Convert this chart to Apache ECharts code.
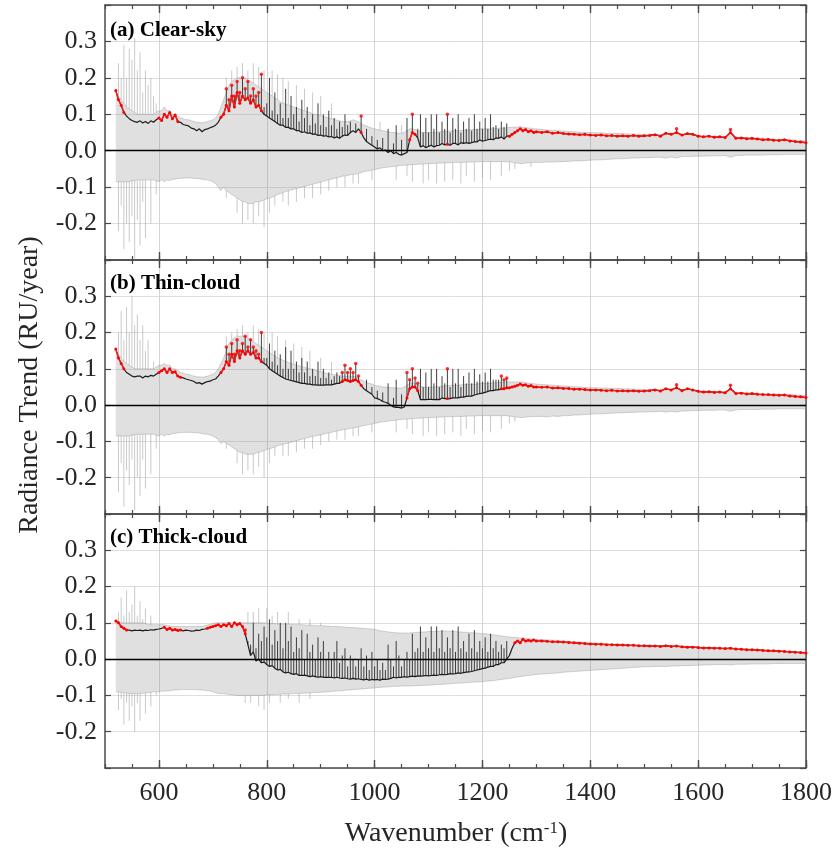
<!DOCTYPE html>
<html>
<head>
<meta charset="utf-8">
<script src="https://cdn.jsdelivr.net/npm/echarts@6/dist/echarts.min.js"></script>
<style>
html, body { margin: 0; padding: 0; background: #fff; }
#chart { width: 838px; height: 855px; }
</style>
</head>
<body>
<div id="chart"></div>
<script>
// wavenumber grid (cm-1)
const wavenumbers = [
  520, 525, 530, 535, 540, 545, 550, 555, 560, 565,
  570, 575, 580, 585, 590, 595, 600, 605, 610, 615,
  620, 625, 630, 635, 640, 645, 650, 655, 660, 665,
  670, 675, 680, 685, 690, 695, 700, 705, 710, 715,
  720, 725, 730, 735, 740, 745, 750, 755, 760, 765,
  770, 775, 780, 785, 790, 795, 800, 805, 810, 815,
  820, 825, 830, 835, 840, 845, 850, 855, 860, 865,
  870, 875, 880, 885, 890, 895, 900, 905, 910, 915,
  920, 925, 930, 935, 940, 945, 950, 955, 960, 965,
  970, 975, 980, 985, 990, 995, 1000, 1005, 1010, 1015,
  1020, 1025, 1030, 1035, 1040, 1045, 1050, 1055, 1060, 1065,
  1070, 1075, 1080, 1085, 1090, 1095, 1100, 1105, 1110, 1115,
  1120, 1125, 1130, 1135, 1140, 1145, 1150, 1155, 1160, 1165,
  1170, 1175, 1180, 1185, 1190, 1195, 1200, 1205, 1210, 1215,
  1220, 1225, 1230, 1235, 1240, 1245, 1250, 1255, 1260, 1265,
  1270, 1275, 1280, 1285, 1290, 1295, 1300,
  1310, 1320, 1330, 1340, 1350, 1360, 1370, 1380, 1390, 1400,
  1410, 1420, 1430, 1440, 1450, 1460, 1470, 1480, 1490, 1500,
  1510, 1520, 1530, 1540, 1550, 1560, 1570, 1580, 1590, 1600,
  1610, 1620, 1630, 1640, 1650, 1660, 1670, 1680, 1690, 1700,
  1710, 1720, 1730, 1740, 1750, 1760, 1770, 1780, 1790, 1800
]

// ---------- (a) clear-sky ----------
const trendA = [
  0.165, 0.14, 0.125, 0.105, 0.095, 0.088, 0.083, 0.08, 0.078, 0.082,
  0.076, 0.08, 0.075, 0.082, 0.078, 0.085, 0.09, 0.083, 0.1, 0.092,
  0.105, 0.088, 0.098, 0.08, 0.078, 0.072, 0.07, 0.068, 0.062, 0.06,
  0.055, 0.06, 0.052, 0.058, 0.06, 0.063, 0.066, 0.07, 0.078, 0.092,
  0.1, 0.125, 0.11, 0.15, 0.12, 0.16, 0.13, 0.15, 0.14, 0.145,
  0.13, 0.14, 0.12, 0.125, 0.11, 0.1, 0.095, 0.09, 0.085, 0.08,
  0.075, 0.07, 0.07, 0.064, 0.064, 0.06, 0.06, 0.055, 0.055, 0.05,
  0.052, 0.048, 0.049, 0.045, 0.046, 0.042, 0.043, 0.04, 0.041, 0.038,
  0.039, 0.035, 0.038, 0.034, 0.04, 0.043, 0.042, 0.05, 0.055, 0.05,
  0.06, 0.05, 0.035, 0.025, 0.02, 0.015, 0.01, 0.005, 0.008, 0.0,
  0.002, -0.005, 0.0, -0.008, -0.005, -0.01, -0.012, -0.008, -0.005, 0.03,
  0.05, 0.045, 0.035, 0.01, 0.014, 0.008, 0.012, 0.015, 0.01, 0.014,
  0.015, 0.02, 0.016, 0.018, 0.015, 0.02, 0.02, 0.016, 0.022, 0.02,
  0.022, 0.02, 0.022, 0.025, 0.024, 0.03, 0.026, 0.028, 0.03, 0.032,
  0.03, 0.035, 0.034, 0.038, 0.032, 0.04, 0.04, 0.045, 0.05, 0.055,
  0.06, 0.055, 0.058, 0.052, 0.055, 0.05, 0.052,
  0.05, 0.052, 0.048, 0.05, 0.047, 0.046, 0.045, 0.044, 0.045, 0.043,
  0.042, 0.043, 0.041, 0.042, 0.04, 0.041, 0.04, 0.042, 0.04, 0.041,
  0.042, 0.044, 0.04, 0.048, 0.045, 0.05, 0.043, 0.047, 0.045, 0.04,
  0.038, 0.04, 0.037, 0.038, 0.036, 0.05, 0.034, 0.035, 0.033, 0.034,
  0.032, 0.03, 0.031, 0.029, 0.028, 0.03, 0.027, 0.025, 0.024, 0.022
]
const spikesA = [
  [725, 0.17], [735, 0.18], [745, 0.19], [755, 0.2], [765, 0.19], [775, 0.17], [790, 0.21],
  [805, 0.2], [815, 0.16], [825, 0.13], [835, 0.17], [845, 0.15], [855, 0.12], [865, 0.14],
  [875, 0.12], [885, 0.1], [895, 0.13], [905, 0.1], [915, 0.11], [925, 0.09], [935, 0.08],
  [945, 0.1], [975, 0.095], [985, 0.06], [1025, 0.06], [1040, 0.07], [1060, 0.09], [1070, 0.1],
  [1085, 0.1], [1095, 0.09], [1105, 0.1], [1115, 0.1], [1125, 0.08], [1135, 0.1], [1145, 0.09],
  [1155, 0.1], [1165, 0.08], [1175, 0.09], [1185, 0.1], [1195, 0.08], [1205, 0.09], [1215, 0.1],
  [1225, 0.07], [1235, 0.08], [1245, 0.075], [1560, 0.06], [1660, 0.058],
  [730, 0.14], [740, 0.15], [750, 0.16], [760, 0.17], [770, 0.15], [780, 0.15], [785, 0.16],
  [795, 0.12], [800, 0.13], [810, 0.11], [820, 0.1], [830, 0.09], [840, 0.09], [850, 0.1],
  [860, 0.08], [870, 0.09], [880, 0.07], [890, 0.075], [900, 0.07], [910, 0.065], [920, 0.07],
  [930, 0.06], [940, 0.065], [950, 0.07], [955, 0.08], [965, 0.075], [995, 0.04], [1005, 0.03],
  [1015, 0.035], [1035, 0.02], [1050, 0.03], [1080, 0.06], [1090, 0.05], [1100, 0.05],
  [1110, 0.06], [1120, 0.05], [1130, 0.06], [1140, 0.05], [1150, 0.06], [1160, 0.05],
  [1170, 0.06], [1180, 0.055], [1190, 0.06], [1200, 0.06], [1210, 0.06], [1220, 0.065],
  [1230, 0.06], [1240, 0.065]
]
const upperA = [
  0.16, 0.15, 0.14, 0.13, 0.12, 0.115, 0.11, 0.105, 0.1, 0.1,
  0.1, 0.1, 0.1, 0.1, 0.1, 0.105, 0.11, 0.11, 0.12, 0.11,
  0.11, 0.1, 0.1, 0.095, 0.09, 0.088, 0.085, 0.085, 0.082, 0.08,
  0.078, 0.078, 0.076, 0.078, 0.08, 0.082, 0.085, 0.09, 0.1, 0.12,
  0.14, 0.16, 0.18, 0.19, 0.195, 0.2, 0.2, 0.2, 0.2, 0.195,
  0.19, 0.185, 0.18, 0.175, 0.17, 0.165, 0.16, 0.155, 0.15, 0.145,
  0.14, 0.135, 0.13, 0.128, 0.125, 0.122, 0.12, 0.117, 0.115, 0.112,
  0.11, 0.107, 0.105, 0.102, 0.1, 0.098, 0.096, 0.094, 0.092, 0.09,
  0.088, 0.086, 0.084, 0.082, 0.08, 0.08, 0.08, 0.082, 0.085, 0.082,
  0.08, 0.075, 0.07, 0.068, 0.065, 0.062, 0.06, 0.058, 0.056, 0.055,
  0.054, 0.052, 0.05, 0.05, 0.049, 0.048, 0.048, 0.05, 0.055, 0.06,
  0.06, 0.058, 0.055, 0.052, 0.05, 0.05, 0.05, 0.05, 0.05, 0.051,
  0.052, 0.052, 0.053, 0.054, 0.054, 0.055, 0.055, 0.055, 0.056, 0.056,
  0.057, 0.057, 0.058, 0.058, 0.058, 0.06, 0.06, 0.06, 0.06, 0.06,
  0.06, 0.061, 0.062, 0.062, 0.062, 0.063, 0.064, 0.064, 0.065, 0.065,
  0.066, 0.064, 0.064, 0.062, 0.062, 0.06, 0.06,
  0.058, 0.057, 0.056, 0.055, 0.054, 0.053, 0.052, 0.051, 0.05, 0.05,
  0.049, 0.049, 0.048, 0.048, 0.047, 0.047, 0.046, 0.046, 0.045, 0.045,
  0.045, 0.045, 0.044, 0.048, 0.045, 0.05, 0.044, 0.047, 0.045, 0.042,
  0.041, 0.041, 0.04, 0.04, 0.039, 0.05, 0.038, 0.037, 0.036, 0.036,
  0.035, 0.034, 0.033, 0.032, 0.031, 0.031, 0.03, 0.029, 0.028, 0.027
]
const upperSpikesA = [
  [525, 0.24], [530, 0.2], [535, 0.29], [540, 0.2], [545, 0.28], [550, 0.25], [555, 0.31],
  [560, 0.22], [565, 0.27], [570, 0.16], [575, 0.22], [580, 0.18], [585, 0.2], [590, 0.15],
  [595, 0.13], [725, 0.2], [735, 0.22], [745, 0.23], [755, 0.24], [765, 0.22], [775, 0.24],
  [785, 0.23], [795, 0.22], [810, 0.22], [820, 0.21], [830, 0.2], [840, 0.19], [855, 0.18],
  [870, 0.17], [885, 0.16], [900, 0.15], [920, 0.13], [1010, 0.08], [1050, 0.07]
]
const lowerA = [
  -0.085, -0.085, -0.085, -0.085, -0.085, -0.085, -0.082, -0.082, -0.08, -0.08,
  -0.08, -0.08, -0.08, -0.08, -0.08, -0.082, -0.085, -0.08, -0.085, -0.08,
  -0.082, -0.078, -0.078, -0.076, -0.076, -0.075, -0.075, -0.075, -0.075, -0.076,
  -0.076, -0.077, -0.078, -0.08, -0.08, -0.082, -0.085, -0.09, -0.1, -0.11,
  -0.1, -0.11, -0.115, -0.12, -0.125, -0.13, -0.135, -0.14, -0.14, -0.145,
  -0.145, -0.145, -0.14, -0.14, -0.138, -0.135, -0.132, -0.13, -0.127, -0.124,
  -0.12, -0.118, -0.115, -0.112, -0.11, -0.108, -0.106, -0.104, -0.102, -0.1,
  -0.098, -0.096, -0.094, -0.092, -0.09, -0.088, -0.086, -0.084, -0.082, -0.08,
  -0.078, -0.076, -0.074, -0.072, -0.07, -0.069, -0.068, -0.066, -0.065, -0.064,
  -0.062, -0.06, -0.058, -0.056, -0.055, -0.053, -0.052, -0.05, -0.048, -0.047,
  -0.046, -0.045, -0.044, -0.043, -0.042, -0.041, -0.04, -0.04, -0.039, -0.039,
  -0.038, -0.038, -0.037, -0.037, -0.036, -0.036, -0.035, -0.035, -0.035, -0.034,
  -0.034, -0.034, -0.033, -0.033, -0.033, -0.032, -0.032, -0.032, -0.032, -0.032,
  -0.031, -0.031, -0.031, -0.031, -0.03, -0.03, -0.03, -0.03, -0.03, -0.03,
  -0.03, -0.03, -0.03, -0.03, -0.03, -0.03, -0.03, -0.032, -0.034, -0.034,
  -0.035, -0.035, -0.034, -0.033, -0.033, -0.032, -0.032,
  -0.032, -0.031, -0.031, -0.03, -0.03, -0.029, -0.028, -0.028, -0.027, -0.026,
  -0.025, -0.025, -0.024, -0.023, -0.022, -0.022, -0.021, -0.02, -0.02, -0.019,
  -0.019, -0.018, -0.018, -0.02, -0.017, -0.02, -0.016, -0.016, -0.015, -0.015,
  -0.015, -0.014, -0.014, -0.014, -0.013, -0.018, -0.013, -0.013, -0.012, -0.012,
  -0.012, -0.012, -0.011, -0.011, -0.011, -0.01, -0.01, -0.01, -0.01, -0.01
]
const lowerSpikesA = [
  [525, -0.22], [530, -0.15], [535, -0.27], [540, -0.2], [545, -0.25], [550, -0.18], [555, -0.3],
  [560, -0.19], [565, -0.26], [570, -0.14], [575, -0.24], [585, -0.2], [595, -0.12], [725, -0.13],
  [745, -0.17], [755, -0.2], [765, -0.19], [775, -0.2], [785, -0.18], [795, -0.21], [805, -0.17],
  [815, -0.15], [830, -0.14], [840, -0.15], [855, -0.14], [870, -0.13], [885, -0.13], [900, -0.12],
  [915, -0.11], [930, -0.1], [945, -0.1], [960, -0.09], [970, -0.09], [995, -0.08], [1040, -0.08],
  [1060, -0.07], [1070, -0.085], [1090, -0.09], [1100, -0.08], [1115, -0.09], [1130, -0.085],
  [1145, -0.08], [1160, -0.09], [1170, -0.07], [1185, -0.085], [1200, -0.075], [1215, -0.08],
  [1235, -0.07], [1250, -0.055], [1260, -0.05], [1290, -0.045]
]
const sigA = [[520, 535], [600, 635], [715, 790], [975, 975], [1065, 1075], [1135, 1135], [1250, 1800]]

// ---------- (b) thin-cloud ----------
const trendB = [
  0.155, 0.13, 0.115, 0.1, 0.09, 0.085, 0.08, 0.078, 0.08, 0.08,
  0.075, 0.08, 0.078, 0.082, 0.08, 0.085, 0.09, 0.095, 0.1, 0.09,
  0.1, 0.09, 0.092, 0.08, 0.077, 0.075, 0.072, 0.07, 0.068, 0.065,
  0.06, 0.062, 0.058, 0.062, 0.065, 0.066, 0.07, 0.072, 0.08, 0.09,
  0.1, 0.12, 0.11, 0.14, 0.12, 0.15, 0.13, 0.15, 0.14, 0.15,
  0.14, 0.145, 0.13, 0.13, 0.12, 0.115, 0.11, 0.1, 0.095, 0.09,
  0.085, 0.08, 0.076, 0.072, 0.07, 0.068, 0.066, 0.064, 0.062, 0.06,
  0.06, 0.058, 0.058, 0.056, 0.056, 0.055, 0.055, 0.055, 0.056, 0.056,
  0.056, 0.058, 0.06, 0.06, 0.065, 0.07, 0.068, 0.065, 0.068, 0.07,
  0.065, 0.055, 0.045, 0.04, 0.035, 0.03, 0.02, 0.018, 0.015, 0.01,
  0.008, 0.005, 0.0, -0.005, -0.006, -0.006, -0.008, -0.005, 0.02, 0.045,
  0.05, 0.05, 0.04, 0.015, 0.015, 0.015, 0.016, 0.016, 0.015, 0.016,
  0.015, 0.02, 0.018, 0.018, 0.018, 0.02, 0.02, 0.02, 0.022, 0.022,
  0.024, 0.025, 0.025, 0.028, 0.03, 0.032, 0.033, 0.035, 0.038, 0.04,
  0.04, 0.042, 0.042, 0.045, 0.045, 0.048, 0.048, 0.05, 0.052, 0.055,
  0.058, 0.055, 0.056, 0.052, 0.054, 0.05, 0.05,
  0.049, 0.05, 0.047, 0.048, 0.046, 0.046, 0.044, 0.044, 0.043, 0.042,
  0.042, 0.041, 0.04, 0.041, 0.039, 0.04, 0.039, 0.04, 0.038, 0.039,
  0.04, 0.042, 0.039, 0.045, 0.042, 0.048, 0.04, 0.045, 0.042, 0.038,
  0.036, 0.037, 0.035, 0.036, 0.034, 0.045, 0.032, 0.033, 0.031, 0.032,
  0.03, 0.029, 0.029, 0.028, 0.027, 0.028, 0.025, 0.024, 0.023, 0.021
]
const spikesB = [
  [725, 0.16], [735, 0.17], [745, 0.18], [755, 0.17], [760, 0.19], [770, 0.18], [790, 0.2],
  [805, 0.17], [815, 0.15], [825, 0.14], [835, 0.16], [845, 0.15], [855, 0.12], [865, 0.13],
  [875, 0.12], [885, 0.1], [895, 0.12], [905, 0.1], [915, 0.09], [930, 0.09], [945, 0.11],
  [955, 0.1], [965, 0.115], [985, 0.07], [1025, 0.06], [1040, 0.07], [1060, 0.09], [1070, 0.1],
  [1085, 0.1], [1095, 0.09], [1105, 0.1], [1115, 0.1], [1125, 0.08], [1135, 0.1], [1145, 0.1],
  [1155, 0.1], [1165, 0.08], [1175, 0.09], [1185, 0.1], [1195, 0.085], [1205, 0.09], [1215, 0.1],
  [1225, 0.07], [1235, 0.08], [1245, 0.075], [1560, 0.056], [1660, 0.055],
  [730, 0.14], [740, 0.14], [750, 0.15], [765, 0.16], [775, 0.16], [780, 0.15], [785, 0.14],
  [795, 0.13], [800, 0.13], [810, 0.12], [820, 0.11], [830, 0.1], [840, 0.1], [850, 0.1],
  [860, 0.09], [870, 0.09], [880, 0.08], [890, 0.08], [900, 0.075], [910, 0.075], [920, 0.07],
  [925, 0.08], [935, 0.08], [940, 0.09], [950, 0.09], [960, 0.09], [970, 0.08], [995, 0.05],
  [1005, 0.04], [1015, 0.035], [1035, 0.02], [1050, 0.03], [1065, 0.07], [1075, 0.075],
  [1080, 0.06], [1090, 0.05], [1100, 0.05], [1110, 0.06], [1120, 0.05], [1130, 0.06],
  [1140, 0.05], [1150, 0.06], [1160, 0.05], [1170, 0.06], [1180, 0.06], [1190, 0.065],
  [1200, 0.065], [1210, 0.065], [1220, 0.07], [1230, 0.07], [1240, 0.07]
]
const upperB = [
  0.15, 0.14, 0.13, 0.12, 0.115, 0.11, 0.105, 0.1, 0.1, 0.1,
  0.1, 0.1, 0.1, 0.1, 0.1, 0.105, 0.11, 0.11, 0.115, 0.11,
  0.11, 0.1, 0.1, 0.095, 0.09, 0.088, 0.085, 0.085, 0.082, 0.08,
  0.078, 0.078, 0.077, 0.078, 0.08, 0.082, 0.085, 0.09, 0.1, 0.115,
  0.13, 0.15, 0.17, 0.18, 0.185, 0.19, 0.19, 0.19, 0.19, 0.185,
  0.18, 0.175, 0.17, 0.165, 0.16, 0.155, 0.15, 0.145, 0.14, 0.135,
  0.13, 0.127, 0.124, 0.121, 0.118, 0.115, 0.112, 0.11, 0.108, 0.106,
  0.104, 0.102, 0.1, 0.098, 0.096, 0.094, 0.092, 0.09, 0.088, 0.086,
  0.085, 0.084, 0.083, 0.082, 0.08, 0.08, 0.08, 0.08, 0.08, 0.078,
  0.075, 0.07, 0.066, 0.063, 0.06, 0.058, 0.055, 0.053, 0.052, 0.05,
  0.05, 0.049, 0.048, 0.048, 0.047, 0.047, 0.047, 0.05, 0.055, 0.06,
  0.062, 0.06, 0.056, 0.052, 0.05, 0.05, 0.05, 0.05, 0.05, 0.051,
  0.052, 0.052, 0.053, 0.054, 0.054, 0.055, 0.055, 0.055, 0.056, 0.056,
  0.057, 0.057, 0.058, 0.058, 0.058, 0.06, 0.06, 0.06, 0.06, 0.06,
  0.062, 0.062, 0.062, 0.063, 0.063, 0.064, 0.064, 0.064, 0.064, 0.064,
  0.064, 0.063, 0.062, 0.061, 0.06, 0.059, 0.058,
  0.057, 0.056, 0.055, 0.054, 0.053, 0.052, 0.051, 0.05, 0.049, 0.048,
  0.048, 0.047, 0.047, 0.046, 0.046, 0.045, 0.045, 0.044, 0.044, 0.043,
  0.043, 0.044, 0.042, 0.046, 0.043, 0.048, 0.042, 0.045, 0.043, 0.04,
  0.039, 0.039, 0.038, 0.038, 0.037, 0.046, 0.036, 0.035, 0.034, 0.034,
  0.033, 0.032, 0.031, 0.031, 0.03, 0.03, 0.029, 0.028, 0.027, 0.026
]
const upperSpikesB = [
  [525, 0.2], [530, 0.26], [535, 0.18], [540, 0.27], [545, 0.2], [550, 0.3], [555, 0.22],
  [560, 0.25], [565, 0.18], [570, 0.22], [575, 0.15], [580, 0.18], [590, 0.12], [725, 0.19],
  [735, 0.2], [745, 0.21], [755, 0.22], [765, 0.2], [775, 0.22], [785, 0.21], [795, 0.2],
  [810, 0.2], [820, 0.19], [835, 0.18], [850, 0.17], [865, 0.16], [880, 0.15], [900, 0.13],
  [920, 0.12]
]
const lowerB = [
  -0.085, -0.085, -0.085, -0.085, -0.085, -0.085, -0.082, -0.082, -0.08, -0.08,
  -0.08, -0.08, -0.08, -0.08, -0.08, -0.082, -0.085, -0.08, -0.085, -0.08,
  -0.082, -0.078, -0.078, -0.076, -0.076, -0.075, -0.075, -0.075, -0.075, -0.076,
  -0.076, -0.077, -0.078, -0.08, -0.08, -0.082, -0.085, -0.09, -0.095, -0.105,
  -0.1, -0.105, -0.11, -0.115, -0.12, -0.125, -0.13, -0.13, -0.135, -0.135,
  -0.135, -0.135, -0.132, -0.13, -0.128, -0.125, -0.122, -0.12, -0.118, -0.115,
  -0.112, -0.11, -0.108, -0.106, -0.104, -0.102, -0.1, -0.098, -0.096, -0.094,
  -0.092, -0.09, -0.088, -0.086, -0.085, -0.083, -0.082, -0.08, -0.078, -0.076,
  -0.075, -0.073, -0.071, -0.07, -0.068, -0.067, -0.066, -0.064, -0.063, -0.062,
  -0.06, -0.058, -0.056, -0.055, -0.053, -0.052, -0.05, -0.049, -0.047, -0.046,
  -0.045, -0.044, -0.043, -0.042, -0.041, -0.04, -0.039, -0.039, -0.038, -0.038,
  -0.037, -0.037, -0.036, -0.036, -0.035, -0.035, -0.034, -0.034, -0.034, -0.033,
  -0.033, -0.033, -0.032, -0.032, -0.032, -0.031, -0.031, -0.031, -0.031, -0.031,
  -0.03, -0.03, -0.03, -0.03, -0.029, -0.029, -0.029, -0.029, -0.029, -0.029,
  -0.029, -0.029, -0.029, -0.029, -0.029, -0.029, -0.03, -0.031, -0.033, -0.033,
  -0.034, -0.034, -0.033, -0.032, -0.032, -0.031, -0.031,
  -0.031, -0.033, -0.03, -0.031, -0.029, -0.029, -0.027, -0.027, -0.026, -0.025,
  -0.024, -0.024, -0.023, -0.022, -0.021, -0.021, -0.02, -0.02, -0.019, -0.019,
  -0.018, -0.018, -0.017, -0.019, -0.017, -0.019, -0.016, -0.016, -0.015, -0.015,
  -0.014, -0.014, -0.014, -0.013, -0.013, -0.017, -0.013, -0.012, -0.012, -0.012,
  -0.012, -0.011, -0.011, -0.011, -0.01, -0.01, -0.01, -0.01, -0.01, -0.01
]
const lowerSpikesB = [
  [525, -0.24], [530, -0.16], [535, -0.28], [540, -0.18], [545, -0.22], [550, -0.15], [555, -0.29],
  [560, -0.2], [565, -0.25], [570, -0.15], [575, -0.23], [585, -0.19], [595, -0.12], [725, -0.12],
  [745, -0.16], [755, -0.19], [765, -0.18], [775, -0.19], [785, -0.17], [795, -0.2], [805, -0.16],
  [815, -0.14], [830, -0.14], [840, -0.14], [855, -0.13], [870, -0.12], [885, -0.12], [900, -0.11],
  [915, -0.1], [930, -0.095], [945, -0.095], [960, -0.085], [970, -0.085], [995, -0.075],
  [1040, -0.075], [1060, -0.065], [1070, -0.08], [1090, -0.085], [1100, -0.075], [1115, -0.085],
  [1130, -0.08], [1145, -0.075], [1160, -0.085], [1170, -0.065], [1185, -0.08], [1200, -0.07],
  [1215, -0.075], [1235, -0.065], [1250, -0.05], [1260, -0.045]
]
const sigB = [[520, 535], [600, 640], [715, 790], [940, 975], [1060, 1080], [1135, 1135], [1235, 1800]]

// ---------- (c) thick-cloud ----------
const trendC = [
  0.105, 0.1, 0.09, 0.085, 0.08, 0.08, 0.078, 0.08, 0.079, 0.08,
  0.078, 0.08, 0.079, 0.081, 0.08, 0.082, 0.083, 0.085, 0.088, 0.082,
  0.085, 0.08, 0.082, 0.079, 0.08, 0.078, 0.08, 0.079, 0.077, 0.078,
  0.08, 0.079, 0.082, 0.083, 0.085, 0.088, 0.09, 0.092, 0.095, 0.09,
  0.095, 0.092, 0.098, 0.09, 0.1, 0.095, 0.098, 0.09, 0.07, 0.04,
  0.01, 0.02, -0.005, 0.0, -0.01, -0.008, -0.015, -0.02, -0.018, -0.025,
  -0.03, -0.028, -0.035, -0.038, -0.036, -0.04, -0.042, -0.04, -0.045, -0.045,
  -0.044, -0.046, -0.048, -0.046, -0.048, -0.05, -0.048, -0.05, -0.05, -0.05,
  -0.05, -0.052, -0.05, -0.052, -0.053, -0.052, -0.054, -0.055, -0.053, -0.055,
  -0.054, -0.056, -0.057, -0.055, -0.058, -0.056, -0.057, -0.056, -0.058, -0.055,
  -0.056, -0.055, -0.053, -0.05, -0.052, -0.05, -0.05, -0.048, -0.05, -0.048,
  -0.047, -0.048, -0.046, -0.047, -0.046, -0.045, -0.046, -0.045, -0.044, -0.045,
  -0.043, -0.042, -0.043, -0.042, -0.04, -0.041, -0.04, -0.038, -0.039, -0.037,
  -0.036, -0.035, -0.034, -0.032, -0.03, -0.028, -0.026, -0.025, -0.022, -0.02,
  -0.02, -0.015, -0.015, -0.01, -0.01, 0.0, 0.01, 0.03, 0.045, 0.05,
  0.045, 0.055, 0.05, 0.052, 0.05, 0.053, 0.05,
  0.05, 0.049, 0.048, 0.048, 0.047, 0.046, 0.045, 0.044, 0.043, 0.042,
  0.041, 0.041, 0.04, 0.04, 0.039, 0.039, 0.038, 0.038, 0.037, 0.037,
  0.036, 0.036, 0.035, 0.037, 0.035, 0.036, 0.034, 0.033, 0.033, 0.032,
  0.031, 0.031, 0.03, 0.03, 0.029, 0.03, 0.028, 0.027, 0.026, 0.026,
  0.025, 0.024, 0.023, 0.023, 0.022, 0.021, 0.02, 0.019, 0.018, 0.017
]
const spikesC = [
  [760, 0.08], [775, 0.1], [785, 0.07], [795, 0.09], [805, 0.11], [815, 0.08], [825, 0.1],
  [835, 0.1], [845, 0.09], [855, 0.06], [865, 0.08], [875, 0.07], [885, 0.04], [895, 0.06],
  [905, 0.05], [915, 0.02], [930, 0.05], [945, 0.03], [960, 0.0], [975, 0.03], [995, 0.02],
  [1025, 0.04], [1040, 0.05], [1060, 0.02], [1070, 0.07], [1085, 0.09], [1095, 0.06], [1105, 0.09],
  [1115, 0.09], [1125, 0.08], [1135, 0.06], [1145, 0.08], [1155, 0.09], [1165, 0.05], [1175, 0.07],
  [1185, 0.08], [1195, 0.05], [1205, 0.06], [1215, 0.07], [1225, 0.05], [1235, 0.04], [1245, 0.05],
  [765, 0.05], [770, 0.04], [780, 0.03], [790, 0.05], [800, 0.06], [810, 0.04], [820, 0.05],
  [830, 0.03], [840, 0.05], [850, 0.02], [860, 0.03], [870, 0.0], [880, 0.02], [890, 0.0],
  [900, 0.02], [910, 0.0], [920, 0.0], [925, 0.02], [935, -0.01], [940, 0.01], [950, -0.02],
  [955, 0.01], [965, -0.02], [970, 0.0], [980, -0.02], [985, 0.01], [990, -0.03], [1000, -0.02],
  [1005, 0.0], [1010, -0.03], [1015, -0.01], [1020, -0.03], [1030, 0.0], [1035, -0.02],
  [1045, 0.01], [1050, -0.02], [1055, 0.0], [1065, 0.0], [1075, 0.02], [1080, 0.03],
  [1090, 0.02], [1100, 0.03], [1110, 0.02], [1120, 0.03], [1130, 0.02], [1140, 0.03],
  [1150, 0.02], [1160, 0.03], [1170, 0.02], [1180, 0.03], [1190, 0.02], [1200, 0.03],
  [1210, 0.02], [1220, 0.03], [1230, 0.02], [1240, 0.03]
]
const upperC = [
  0.11, 0.105, 0.1, 0.1, 0.1, 0.1, 0.1, 0.1, 0.1, 0.1,
  0.1, 0.098, 0.095, 0.095, 0.095, 0.095, 0.095, 0.095, 0.095, 0.092,
  0.092, 0.09, 0.09, 0.09, 0.09, 0.09, 0.09, 0.09, 0.09, 0.09,
  0.09, 0.09, 0.09, 0.092, 0.094, 0.096, 0.098, 0.1, 0.1, 0.1,
  0.1, 0.1, 0.1, 0.1, 0.1, 0.1, 0.1, 0.1, 0.1, 0.1,
  0.1, 0.1, 0.1, 0.1, 0.1, 0.1, 0.099, 0.098, 0.098, 0.098,
  0.097, 0.097, 0.097, 0.096, 0.096, 0.096, 0.095, 0.095, 0.095, 0.095,
  0.094, 0.094, 0.094, 0.093, 0.093, 0.092, 0.092, 0.092, 0.091, 0.091,
  0.09, 0.09, 0.09, 0.089, 0.089, 0.088, 0.088, 0.087, 0.087, 0.086,
  0.086, 0.085, 0.085, 0.084, 0.083, 0.083, 0.082, 0.08, 0.078, 0.077,
  0.076, 0.075, 0.074, 0.073, 0.073, 0.072, 0.072, 0.072, 0.072, 0.072,
  0.073, 0.073, 0.074, 0.074, 0.075, 0.075, 0.076, 0.076, 0.076, 0.077,
  0.077, 0.077, 0.078, 0.077, 0.077, 0.076, 0.076, 0.075, 0.075, 0.074,
  0.074, 0.073, 0.073, 0.072, 0.072, 0.071, 0.07, 0.07, 0.069, 0.068,
  0.067, 0.066, 0.065, 0.064, 0.063, 0.062, 0.061, 0.06, 0.06, 0.059,
  0.058, 0.058, 0.057, 0.056, 0.056, 0.055, 0.055,
  0.054, 0.053, 0.052, 0.051, 0.05, 0.049, 0.048, 0.047, 0.046, 0.045,
  0.044, 0.044, 0.043, 0.042, 0.042, 0.041, 0.04, 0.04, 0.039, 0.039,
  0.038, 0.038, 0.037, 0.038, 0.036, 0.037, 0.035, 0.035, 0.034, 0.034,
  0.033, 0.033, 0.032, 0.032, 0.031, 0.032, 0.03, 0.029, 0.029, 0.028,
  0.027, 0.026, 0.026, 0.025, 0.024, 0.023, 0.022, 0.021, 0.021, 0.02
]
const upperSpikesC = [
  [525, 0.13], [530, 0.17], [535, 0.12], [540, 0.19], [545, 0.13], [550, 0.15], [555, 0.2],
  [560, 0.12], [565, 0.16], [570, 0.11], [575, 0.14], [585, 0.12], [765, 0.13], [775, 0.13],
  [785, 0.14], [800, 0.14], [810, 0.12], [820, 0.13], [840, 0.13], [860, 0.11], [880, 0.11],
  [900, 0.1]
]
const lowerC = [
  -0.09, -0.09, -0.092, -0.092, -0.094, -0.094, -0.095, -0.095, -0.095, -0.094,
  -0.094, -0.093, -0.092, -0.091, -0.09, -0.09, -0.09, -0.088, -0.088, -0.088,
  -0.087, -0.086, -0.085, -0.085, -0.084, -0.084, -0.084, -0.084, -0.084, -0.084,
  -0.084, -0.085, -0.085, -0.086, -0.087, -0.088, -0.09, -0.092, -0.094, -0.095,
  -0.095, -0.096, -0.097, -0.098, -0.099, -0.1, -0.1, -0.1, -0.1, -0.1,
  -0.1, -0.1, -0.1, -0.1, -0.1, -0.1, -0.098, -0.098, -0.098, -0.098,
  -0.097, -0.097, -0.096, -0.096, -0.096, -0.095, -0.095, -0.095, -0.094, -0.094,
  -0.094, -0.093, -0.093, -0.092, -0.092, -0.092, -0.091, -0.091, -0.09, -0.09,
  -0.089, -0.088, -0.088, -0.087, -0.087, -0.086, -0.085, -0.085, -0.084, -0.083,
  -0.083, -0.082, -0.082, -0.081, -0.08, -0.08, -0.079, -0.078, -0.078, -0.077,
  -0.077, -0.076, -0.076, -0.075, -0.075, -0.075, -0.074, -0.074, -0.074, -0.074,
  -0.074, -0.073, -0.073, -0.073, -0.072, -0.072, -0.072, -0.071, -0.071, -0.07,
  -0.07, -0.069, -0.069, -0.068, -0.068, -0.067, -0.067, -0.066, -0.066, -0.065,
  -0.065, -0.064, -0.064, -0.063, -0.063, -0.062, -0.062, -0.061, -0.06, -0.06,
  -0.059, -0.058, -0.057, -0.056, -0.055, -0.054, -0.053, -0.052, -0.05, -0.049,
  -0.048, -0.047, -0.046, -0.045, -0.044, -0.043, -0.042,
  -0.041, -0.04, -0.039, -0.038, -0.036, -0.035, -0.034, -0.033, -0.032, -0.031,
  -0.03, -0.029, -0.028, -0.027, -0.026, -0.025, -0.024, -0.023, -0.022, -0.021,
  -0.021, -0.02, -0.02, -0.02, -0.019, -0.019, -0.018, -0.018, -0.017, -0.017,
  -0.016, -0.016, -0.015, -0.015, -0.015, -0.016, -0.014, -0.014, -0.014, -0.013,
  -0.013, -0.013, -0.013, -0.012, -0.012, -0.012, -0.012, -0.012, -0.012, -0.012
]
const lowerSpikesC = [
  [525, -0.14], [530, -0.11], [535, -0.18], [540, -0.12], [545, -0.17], [550, -0.13], [555, -0.2],
  [560, -0.12], [565, -0.17], [575, -0.15], [585, -0.13], [595, -0.1], [760, -0.12], [770, -0.12],
  [785, -0.13], [795, -0.14], [805, -0.12], [825, -0.12], [840, -0.11], [860, -0.12], [880, -0.11]
]
const sigC = [[520, 540], [610, 640], [690, 760], [1260, 1800]]

const titles = ['(a) Clear-sky', '(b) Thin-cloud', '(c) Thick-cloud']
const xMajorTicks = [600, 800, 1000, 1200, 1400, 1600, 1800]

const font = 'Liberation Serif'
const frameColor = '#4a4a4a'
const gridTops = [5, 260, 514]
const gridHeights = [255, 254, 254]
const titleY = [31, 284, 538]

const trends = [trendA, trendB, trendC]
const spikes = [spikesA, spikesB, spikesC]
const uppers = [upperA, upperB, upperC]
const upperSpikes = [upperSpikesA, upperSpikesB, upperSpikesC]
const lowers = [lowerA, lowerB, lowerC]
const lowerSpikes = [lowerSpikesA, lowerSpikesB, lowerSpikesC]
const sigs = [sigA, sigB, sigC]

function inSig(w, ranges) {
  return ranges.some(r => w >= r[0] && w <= r[1])
}
function pairs(arr) {
  return wavenumbers.map((w, i) => [w, arr[i]])
}
// spike = vertical stroke from the curve value at w to the listed value
function spikeData(list, base) {
  return list.map(s => [s[0], base[wavenumbers.indexOf(s[0])], s[1]])
}
function spikeRenderer(color, width) {
  return function (params, api) {
    const p0 = api.coord([api.value(0), api.value(1)])
    const p1 = api.coord([api.value(0), api.value(2)])
    return {
      type: 'line',
      shape: { x1: p0[0], y1: p0[1], x2: p1[0], y2: p1[1] },
      style: { stroke: color, lineWidth: width }
    }
  }
}

const chartInstance = echarts.init(document.getElementById('chart'))

const grid = []
const xAxis = []
const yAxis = []
const series = []
const graphic = []

for (let i = 0; i < 3; i++) {
  grid.push({ left: 105, right: 32, top: gridTops[i], height: gridHeights[i] })

  // minor ticks every 50, bottom and top
  ;['bottom', 'top'].forEach(pos => {
    xAxis.push({
      type: 'value', gridIndex: i, position: pos, min: 500, max: 1800, interval: 50,
      axisLine: { show: true, onZero: false, lineStyle: { color: frameColor, width: 1.5 } },
      axisTick: { show: true, inside: true, length: 4, lineStyle: { color: frameColor, width: 1.2 } },
      axisLabel: { show: false },
      splitLine: { show: false }
    })
  })
  // major ticks + labels + grid lines
  ;['bottom', 'top'].forEach(pos => {
    xAxis.push({
      type: 'value', gridIndex: i, position: pos, min: 500, max: 1800,
      axisLine: { show: false, onZero: false },
      axisTick: { show: true, inside: true, length: 8, customValues: xMajorTicks, lineStyle: { color: frameColor, width: 1.4 } },
      axisLabel: {
        show: pos === 'bottom' && i === 2, customValues: xMajorTicks, margin: 12,
        fontFamily: font, fontSize: 26, color: '#262626',
        formatter: v => String(v)
      },
      splitLine: { show: pos === 'bottom', lineStyle: { color: '#d4d4d4', width: 1 } }
    })
  })
  ;['left', 'right'].forEach(pos => {
    yAxis.push({
      type: 'value', gridIndex: i, position: pos, min: -0.3, max: 0.4, interval: 0.1,
      axisLine: { show: true, onZero: false, lineStyle: { color: frameColor, width: 1.5 } },
      axisTick: { show: true, inside: true, length: 6, lineStyle: { color: frameColor, width: 1.2 } },
      axisLabel: {
        show: pos === 'left', margin: 8, fontFamily: font, fontSize: 26, color: '#262626',
        formatter: v => (v > -0.25 && v < 0.35) ? v.toFixed(1) : ''
      },
      splitLine: { show: pos === 'left', lineStyle: { color: '#dedede', width: 1 } }
    })
  })

  const xi = i * 4
  const yi = i * 2

  // grey band: upper and lower envelopes filled to zero
  ;[uppers[i], lowers[i]].forEach(band => {
    series.push({
      type: 'line', xAxisIndex: xi, yAxisIndex: yi, data: pairs(band),
      showSymbol: false, silent: true,
      lineStyle: { color: 'rgba(150,150,150,0.5)', width: 0.8 },
      areaStyle: { origin: 0, color: 'rgba(150,150,150,0.42)' },
      z: 1
    })
  })
  ;[[upperSpikes[i], uppers[i]], [lowerSpikes[i], lowers[i]]].forEach(pair => {
    series.push({
      type: 'custom', xAxisIndex: xi, yAxisIndex: yi, silent: true,
      data: spikeData(pair[0], pair[1]),
      encode: { x: 0, y: [1, 2] },
      renderItem: spikeRenderer('rgba(150,150,150,0.5)', 1),
      z: 1
    })
  })

  // trend line
  series.push({
    type: 'line', xAxisIndex: xi, yAxisIndex: yi, data: pairs(trends[i]),
    showSymbol: false, silent: true,
    lineStyle: { color: '#1c1c1c', width: 1.2 },
    markLine: {
      silent: true, symbol: ['none', 'none'], label: { show: false },
      lineStyle: { color: '#000', width: 1.3, type: 'solid' },
      data: [{ yAxis: 0 }]
    },
    z: 3
  })
  series.push({
    type: 'custom', xAxisIndex: xi, yAxisIndex: yi, silent: true,
    data: spikeData(spikes[i], trends[i]),
    encode: { x: 0, y: [1, 2] },
    renderItem: spikeRenderer('#2a2a2a', 0.9),
    z: 3
  })

  // significant points in red
  series.push({
    type: 'line', xAxisIndex: xi, yAxisIndex: yi,
    data: wavenumbers.map((w, k) => [w, inSig(w, sigs[i]) ? trends[i][k] : null]),
    showSymbol: true, showAllSymbol: true, symbol: 'circle', symbolSize: 3,
    connectNulls: false, silent: true,
    itemStyle: { color: '#ff0000' },
    lineStyle: { color: '#ff1a1a', width: 1.4 },
    z: 4
  })
  series.push({
    type: 'scatter', xAxisIndex: xi, yAxisIndex: yi, silent: true,
    data: spikes[i].filter(s => inSig(s[0], sigs[i])),
    symbolSize: 3.5, itemStyle: { color: '#ff0000' },
    z: 4
  })

  graphic.push({
    type: 'text', x: 110, y: titleY[i], z: 10,
    style: { text: titles[i], font: 'bold 21px "Liberation Serif"', fill: '#000', verticalAlign: 'middle' }
  })
}

graphic.push({
  type: 'text', x: 30, y: 385, rotation: Math.PI / 2, z: 10,
  style: { text: 'Radiance Trend (RU/year)', font: '28px "Liberation Serif"', fill: '#262626', align: 'center', verticalAlign: 'middle' }
})
graphic.push({
  type: 'text', x: 456, y: 834, z: 10,
  style: {
    text: '{a|Wavenumber (cm}{s|-1}{a|)}', align: 'center', verticalAlign: 'middle',
    rich: {
      a: { fontFamily: font, fontSize: 28, fill: '#262626', color: '#262626', verticalAlign: 'bottom' },
      s: { fontFamily: font, fontSize: 17, fill: '#262626', color: '#262626', verticalAlign: 'top' }
    }
  }
})

const initOption = {
  animation: false,
  backgroundColor: '#fff',
  grid: grid,
  xAxis: xAxis,
  yAxis: yAxis,
  series: series,
  graphic: graphic
}
chartInstance.setOption(initOption)
</script>
</body>
</html>
